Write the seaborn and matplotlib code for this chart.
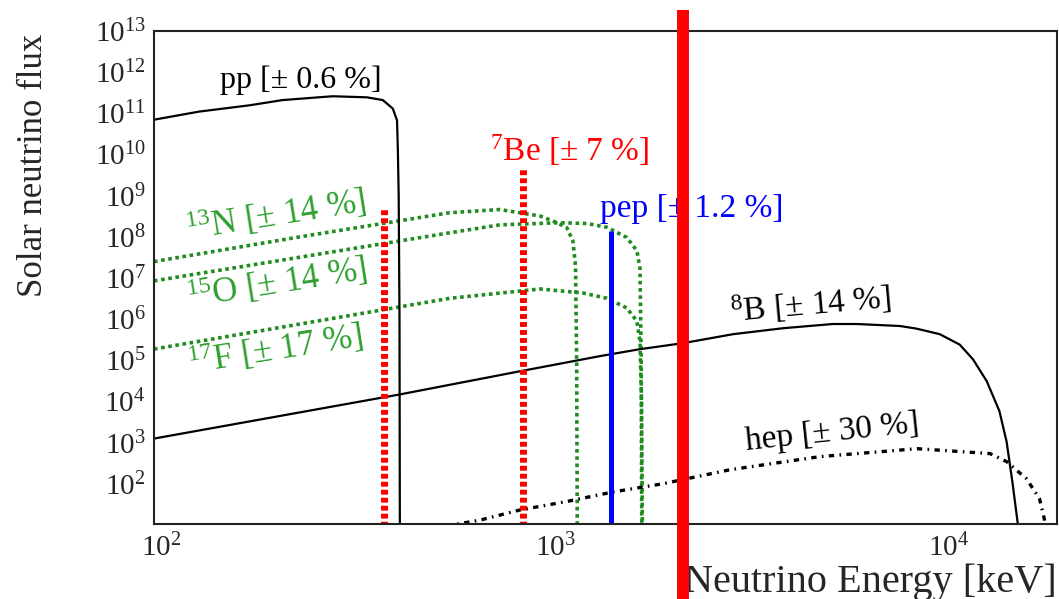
import numpy as np
import matplotlib
matplotlib.use("Agg")
import matplotlib.pyplot as plt
import matplotlib.transforms as mtransforms
import seaborn as sns
from matplotlib.ticker import LogLocator, NullFormatter

# -------------------------------
# Data (energy in keV, flux)
# -------------------------------
pp_energy = [100, 130, 175, 212, 284, 347, 381, 404, 414, 416, 418, 420, 421]
pp_flux = [7.0e10, 1.1e11, 1.57e11, 2.1e11, 2.6e11, 2.45e11, 2.1e11, 1.3e11,
           6.7e10, 1.26e10, 1e9, 1e6, 1]

be7_energy = [384, 862]
be7_flux = [5.0e8, 4.6e9]

pep_energy = [1442]
pep_flux = [1.4e8]

n13_energy = [100, 235, 563, 755, 955, 1055, 1117, 1157, 1175, 1183, 1188]
n13_flux = [2.5e7, 1.0e8, 3.85e8, 4.6e8, 3.2e8, 2.2e8, 1.66e8, 8e7, 2e7, 1e5, 1]

o15_energy = [100, 235, 563, 755, 1072, 1256, 1412, 1586, 1682, 1713, 1725, 1732]
o15_flux = [8.5e6, 3.2e7, 1.25e8, 1.95e8, 2.2e8, 2.1e8, 1.7e8, 9.6e7, 4.6e7,
            1.7e7, 1e5, 1]

f17_energy = [100, 235, 563, 955, 1228, 1412, 1586, 1682, 1713, 1728, 1740]
f17_flux = [1.87e5, 7.6e5, 3.2e6, 5.4e6, 4.3e6, 3.2e6, 1.86e6, 8.9e5, 2.9e5, 1e4, 1]

b8_energy = [100, 421, 849, 1355, 1713, 2200, 2950, 3950, 5280, 6080, 7820,
             8600, 9880, 11100, 12000, 13000, 14000, 14600, 15100, 15600, 16000]
b8_flux = [1.25e3, 1.48e4, 5.4e4, 1.26e5, 1.86e5, 2.6e5, 4.3e5, 6.0e5, 7.6e5,
           7.6e5, 6.8e5, 5.9e5, 4.3e5, 2.4e5, 1.05e5, 3.1e4, 5.8e3, 1.05e3,
           112, 10, 1]

hep_energy = [500, 671, 849, 1117, 1462, 1960, 2900, 4900, 8650, 13250, 14600,
              16400, 17700, 18200, 18800]
hep_flux = [8, 13, 23, 37, 63, 100, 219, 455, 710, 540, 345, 132, 43, 14, 1]

threshold_energy = [2200]

GREEN_LINE = "#1e8c1e"
GREEN_TEXT = "#2ea02e"

sns.set_style("white")
plt.rcParams["font.family"] = ["Liberation Serif", "DejaVu Serif"]
plt.rcParams["mathtext.fontset"] = "custom"
plt.rcParams["mathtext.rm"] = "Liberation Serif"
plt.rcParams["mathtext.it"] = "Liberation Serif:italic"
plt.rcParams["mathtext.bf"] = "Liberation Serif:bold"

fig = plt.figure(figsize=(10.59, 5.99), dpi=100)
ax = fig.add_axes([0.1454, 0.1252, 0.8527, 0.8230])

# -------------------------------
# Continuous spectra
# -------------------------------
dotted = (0, (1, 1))
for e, f in [(n13_energy, n13_flux), (o15_energy, o15_flux), (f17_energy, f17_flux)]:
    sns.lineplot(x=e, y=f, ax=ax, color=GREEN_LINE, lw=2.6, linestyle=dotted,
                 estimator=None, sort=False)

sns.lineplot(x=pp_energy, y=pp_flux, ax=ax, color="black", lw=1.6,
             estimator=None, sort=False)
sns.lineplot(x=b8_energy, y=b8_flux, ax=ax, color="black", lw=1.6,
             estimator=None, sort=False)
sns.lineplot(x=hep_energy, y=hep_flux, ax=ax, color="black", lw=2.4,
             linestyle=(0, (1.6, 1.6, 0.5, 1.6)), estimator=None, sort=False)

# -------------------------------
# Line sources
# -------------------------------
ax.vlines(be7_energy, 1, be7_flux, color="red", lw=5, linestyles=[(0, (0.7, 0.45))])
ax.vlines(pep_energy, 1, pep_flux, color="blue", lw=3.6)

ax.set_xscale("log")
ax.set_yscale("log")
ax.set_xlim(100, 19600)
ax.set_ylim(10.5, 1e13)

# thick red marker running past the frame
ax.axvline(threshold_energy[0], ymin=-0.16, ymax=1.043, color="red", lw=8.6,
           clip_on=False, zorder=6, solid_capstyle="butt")

# -------------------------------
# Labels
# -------------------------------
ax.text(0.163, 0.900, "pp [± 0.6 %]", transform=ax.transAxes, fontsize=23,
        ha="center", va="center", color="black")
ax.text(0.4607, 0.7586, r"$^{7}$Be [± 7 %]", transform=ax.transAxes, fontsize=24,
        ha="center", va="center", color="red")
ax.text(0.596, 0.640, "pep [± 1.2 %]", transform=ax.transAxes, fontsize=24,
        ha="center", va="center", color="blue")
ax.text(0.135, 0.627, r"$^{13}$N [± 14 %]", transform=ax.transAxes, fontsize=25,
        ha="center", va="center", color=GREEN_TEXT, rotation=9)
ax.text(0.136, 0.489, r"$^{15}$O [± 14 %]", transform=ax.transAxes, fontsize=25,
        ha="center", va="center", color=GREEN_TEXT, rotation=9)
ax.text(0.134, 0.353, r"$^{17}$F [± 17 %]", transform=ax.transAxes, fontsize=25,
        ha="center", va="center", color=GREEN_TEXT, rotation=9)
ax.text(0.7276, 0.446, r"$^{8}$B [± 14 %]", transform=ax.transAxes, fontsize=24,
        ha="center", va="center", color="black", rotation=5)
ax.text(0.751, 0.185, "hep [± 30 %]", transform=ax.transAxes, fontsize=24,
        ha="center", va="center", color="black", rotation=6)

ax.set_ylabel("Solar neutrino flux", fontsize=25)
ax.yaxis.set_label_coords(-0.115, 0.728)
ax.set_xlabel("Neutrino Energy [keV]", fontsize=29, ha="right")
ax.xaxis.set_label_coords(1.0, -0.080)

# -------------------------------
# Ticks and frame
# -------------------------------
ax.yaxis.set_major_locator(LogLocator(base=10, numticks=20))
ax.yaxis.set_minor_locator(LogLocator(base=10, subs=np.arange(2, 10), numticks=20))
ax.yaxis.set_minor_formatter(NullFormatter())
ax.xaxis.set_major_locator(LogLocator(base=10, numticks=10))
ax.xaxis.set_minor_locator(LogLocator(base=10, subs=np.arange(2, 10), numticks=10))
ax.xaxis.set_minor_formatter(NullFormatter())

ax.tick_params(axis="y", which="major", direction="in", length=18, width=1.1,
               labelsize=21, pad=6, right=False)
ax.tick_params(axis="y", which="minor", direction="in", length=9.5, width=1.0,
               right=False)
ax.tick_params(axis="x", which="major", direction="in", length=11, width=1.1,
               labelsize=21, pad=7, top=False)
ax.tick_params(axis="x", which="minor", direction="in", length=6, width=1.0,
               top=False)

# x tick labels sit a little right of their ticks in the reference
shift = mtransforms.ScaledTranslation(0.07, 0, fig.dpi_scale_trans)
for tick in ax.xaxis.get_major_ticks():
    tick.label1.set_transform(tick.label1.get_transform() + shift)

for spine in ax.spines.values():
    spine.set_linewidth(1.5)
    spine.set_color("#222222")

fig.savefig("out.png", dpi=100, facecolor="white")
plt.close(fig)
